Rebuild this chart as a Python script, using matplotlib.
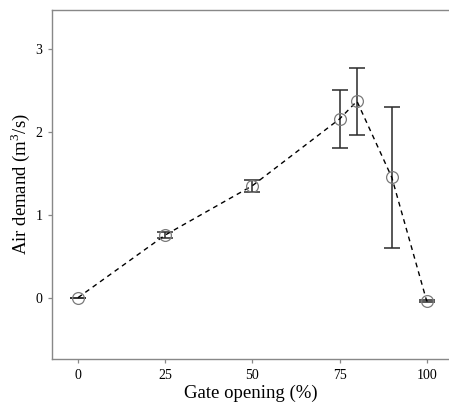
import matplotlib
matplotlib.use("Agg")
import matplotlib.pyplot as plt

gate_opening = [0, 25, 50, 75, 80, 90, 100]
air_demand = [0.0, 0.755, 1.35, 2.155, 2.37, 1.45, -0.04]
air_err = [0.0, 0.035, 0.07, 0.345, 0.405, 0.855, 0.012]
x_ticks = [0, 25, 50, 75, 100]
y_ticks = [0, 1, 2, 3]

plt.rcParams['font.family'] = ['Liberation Serif', 'DejaVu Serif']
plt.rcParams['mathtext.fontset'] = 'custom'
plt.rcParams['mathtext.rm'] = 'Liberation Serif'

fig = plt.figure(figsize=(4.49, 4.03), dpi=100)
ax = fig.add_axes([52/449, 44/403, 397/449, 349/403])

ax.errorbar(gate_opening, air_demand, yerr=air_err, fmt='none',
            ecolor='#2a2a2a', elinewidth=1.1, capsize=5.8, capthick=1.1, zorder=2)
ax.plot(gate_opening, air_demand, linestyle=(0, (3.5, 3)), color='black',
        linewidth=1.0, zorder=3)
ax.plot(gate_opening, air_demand, linestyle='none', marker='o', markersize=8.5,
        markerfacecolor='none', markeredgecolor='#7a7a7a', markeredgewidth=0.9, zorder=4)

ax.set_xlim(-7.45, 106.4)
ax.set_ylim(-0.74, 3.47)
ax.set_xticks(x_ticks)
ax.set_yticks(y_ticks)
ax.set_xticklabels([str(v) for v in x_ticks])
ax.set_yticklabels([str(v) for v in y_ticks])

for s in ['left', 'bottom', 'top']:
    ax.spines[s].set_color('#888888')
    ax.spines[s].set_linewidth(1.0)
ax.spines['right'].set_visible(False)
ax.tick_params(axis='both', colors='#888888', length=3, width=0.9,
               labelsize=10, labelcolor='black', pad=4)

ax.set_xlabel('Gate opening (%)', fontsize=13.5, labelpad=2)
ax.set_ylabel('Air demand (m$^3$/s)', fontsize=13.5, labelpad=2)

fig.savefig('out.png', dpi=100)
